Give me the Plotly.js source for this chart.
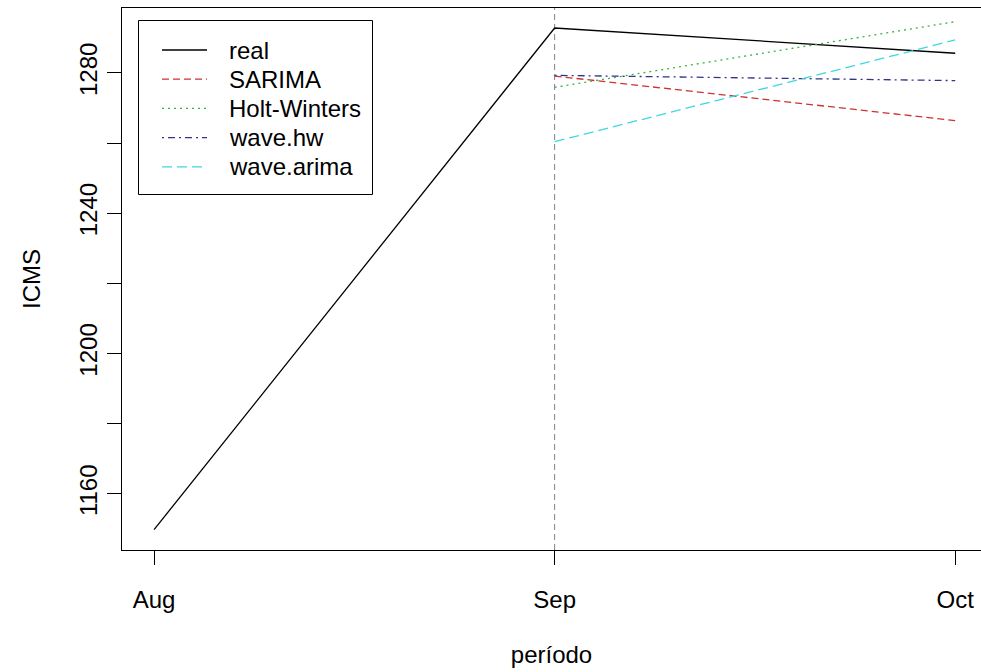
<!DOCTYPE html>
<html>
<head>
<meta charset="utf-8">
<script src="https://cdn.plot.ly/plotly-3.0.1.min.js"></script>
<style>html,body{margin:0;padding:0;background:#fff;}#chart{width:981px;height:672px;}</style>
</head>
<body>
<div id="chart"></div>
<script>
// Data
const periods = ['Aug', 'Sep', 'Oct'];
const forecastPeriods = ['Sep', 'Oct'];
const realValues = [1149.8, 1292.8, 1285.6];
const sarimaValues = [1279.1, 1266.4];
const holtWintersValues = [1275.9, 1294.6];
const waveHwValues = [1279.3, 1277.8];
const waveArimaValues = [1260.4, 1289.4];
const seriesNames = ['real', 'SARIMA', 'Holt-Winters', 'wave.hw', 'wave.arima'];
const yTickValues = [1160, 1180, 1200, 1220, 1240, 1260, 1280];
const yTickLabels = ['1160', '', '1200', '', '1240', '', '1280'];

const FONT = 'Liberation Sans, Arial, Helvetica, sans-serif';
const styles = [
  {color: '#000000', width: 1.3},
  {color: '#CC3333', width: 1.3, dash: '7px,4px'},
  {color: '#3CB043', width: 1.3, dash: '2px,4px'},
  {color: '#333388', width: 1.3, dash: '2px,4px,7px,4px'},
  {color: '#3FD8DF', width: 1.3, dash: '10px,5px'}
];

const seriesX = [periods, forecastPeriods, forecastPeriods, forecastPeriods, forecastPeriods];
const seriesY = [realValues, sarimaValues, holtWintersValues, waveHwValues, waveArimaValues];

const traces = seriesNames.map((n, i) => ({
  x: seriesX[i], y: seriesY[i], name: n, mode: 'lines', line: styles[i], showlegend: false
}));

// plot area geometry in pixels (for the hand-drawn legend box)
const W = 981, H = 672, ML = 122, MR = 0, MT = 8, MB = 122;
const pw = W - ML - MR, ph = H - MT - MB;
const px = v => (v - ML) / pw;
const py = v => 1 - (v - MT) / ph;

const shapes = [{
  type: 'line', xref: 'x', yref: 'paper', x0: 1, x1: 1, y0: 0, y1: 1,
  line: {color: '#808080', width: 1, dash: '6px,4px'}, layer: 'below'
}, {
  type: 'rect', xref: 'paper', yref: 'paper',
  x0: px(138.5), x1: px(372.5), y0: py(194.5), y1: py(20.5),
  line: {color: '#000000', width: 1}, fillcolor: '#ffffff', layer: 'above'
}];
const annotations = [];
seriesNames.forEach((n, i) => {
  const rowY = 50 + i * 29.2;
  shapes.push({
    type: 'line', xref: 'paper', yref: 'paper',
    x0: px(162), x1: px(207), y0: py(rowY), y1: py(rowY),
    line: styles[i], layer: 'above'
  });
  annotations.push({
    xref: 'paper', yref: 'paper', x: px(227), y: py(rowY),
    xanchor: 'left', yanchor: 'middle', showarrow: false, text: n,
    font: {family: FONT, size: 24, color: '#000000'}
  });
});

const layout = {
  width: W, height: H,
  margin: {l: ML, r: MR, t: MT, b: MB, pad: 0},
  paper_bgcolor: '#ffffff', plot_bgcolor: '#ffffff',
  font: {family: FONT, size: 24, color: '#000000'},
  showlegend: false,
  xaxis: {
    type: 'category', categoryarray: periods, categoryorder: 'array',
    range: [-0.08, 2.0643],
    showgrid: false, zeroline: false,
    showline: true, linecolor: '#000000', linewidth: 1, mirror: true,
    ticks: 'outside', ticklen: 14, tickcolor: '#000000', tickwidth: 1,
    tickfont: {family: FONT, size: 24, color: '#000000'},
    ticklabelstandoff: 14,
    title: {text: 'período', font: {family: FONT, size: 24, color: '#000000'}, standoff: 34}
  },
  yaxis: {
    range: [1144.0, 1298.5],
    tickvals: yTickValues, ticktext: yTickLabels,
    showgrid: false, zeroline: false,
    showline: true, linecolor: '#000000', linewidth: 1, mirror: false,
    ticks: 'outside', ticklen: 14, tickcolor: '#000000', tickwidth: 1,
    tickangle: -90,
    tickfont: {family: FONT, size: 24, color: '#000000'},
    ticklabelstandoff: 0,
    title: {text: 'ICMS', font: {family: FONT, size: 24, color: '#000000'}, standoff: 28}
  },
  shapes: shapes,
  annotations: annotations
};

Plotly.newPlot('chart', traces, layout, {displayModeBar: false, staticPlot: true});
</script>
</body>
</html>
